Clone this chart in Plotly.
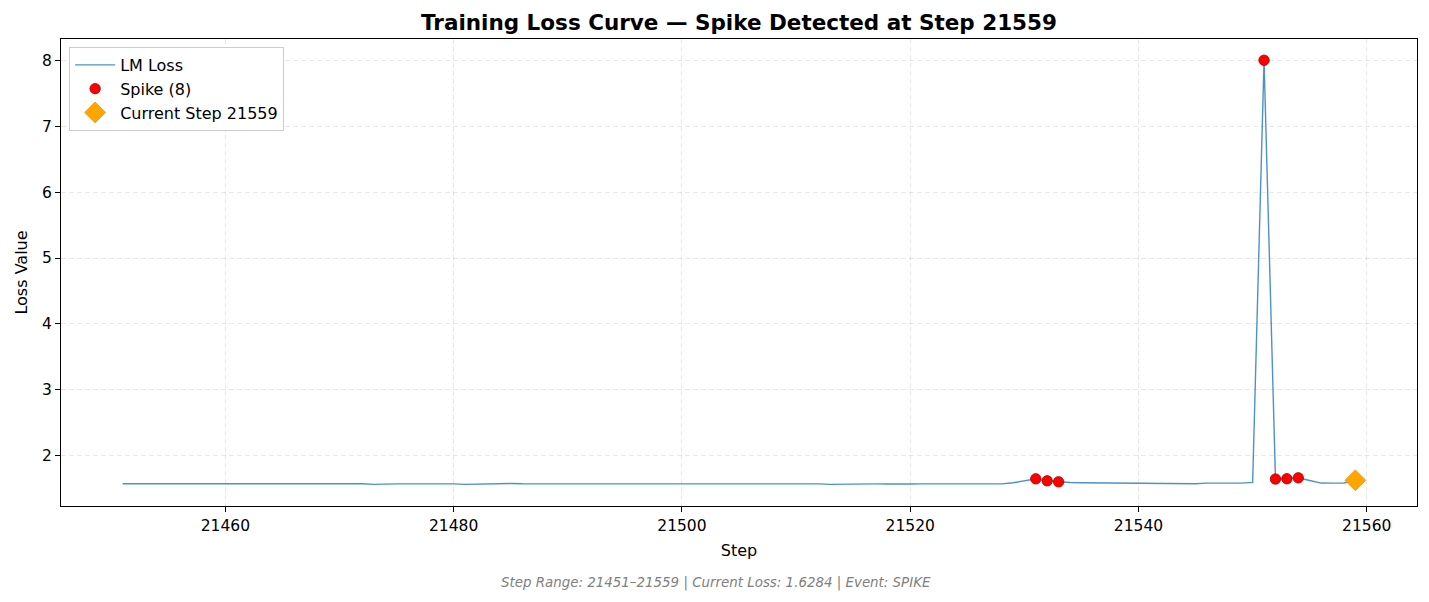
import plotly.graph_objects as go

# loss values for steps 21451..21559
steps = list(range(21451, 21560))
loss = [
    1.575, 1.575, 1.574, 1.574, 1.572, 1.572, 1.575, 1.578, 1.576, 1.571,  # 21451-21460
    1.574, 1.573, 1.571, 1.569, 1.572, 1.572, 1.572, 1.573, 1.574, 1.573,  # 21461-21470
    1.572, 1.576, 1.566, 1.574, 1.574, 1.573, 1.575, 1.575, 1.574, 1.573,  # 21471-21480
    1.566, 1.570, 1.575, 1.578, 1.580, 1.576, 1.576, 1.577, 1.570, 1.575,  # 21481-21490
    1.575, 1.573, 1.572, 1.573, 1.573, 1.573, 1.576, 1.575, 1.575, 1.577,  # 21491-21500
    1.576, 1.573, 1.574, 1.577, 1.575, 1.572, 1.575, 1.574, 1.575, 1.578,  # 21501-21510
    1.575, 1.574, 1.566, 1.570, 1.574, 1.573, 1.573, 1.571, 1.566, 1.572,  # 21511-21520
    1.574, 1.574, 1.573, 1.574, 1.576, 1.576, 1.574, 1.574, 1.590, 1.620,  # 21521-21530
    1.650, 1.620, 1.605, 1.595, 1.590, 1.588, 1.590, 1.585, 1.586, 1.587,  # 21531-21540
    1.588, 1.583, 1.582, 1.582, 1.576, 1.585, 1.582, 1.580, 1.585, 1.596,  # 21541-21550
    8.000, 1.647, 1.652, 1.665, 1.625, 1.586, 1.585, 1.588, 1.628,          # 21551-21559
]

spike_steps = [21531, 21532, 21533, 21551, 21552, 21553, 21554]
spike_loss = [loss[s - steps[0]] for s in spike_steps]

current_step = 21559
current_loss = loss[current_step - steps[0]]

x_ticks = [21460, 21480, 21500, 21520, 21540, 21560]
x_tick_labels = [str(t) for t in x_ticks]
y_ticks = [2, 3, 4, 5, 6, 7, 8]

fig = go.Figure()

fig.add_trace(go.Scatter(
    x=steps, y=loss, mode='lines', name='LM Loss',
    line=dict(color='rgba(31,119,180,0.8)', width=1.4)
))

fig.add_trace(go.Scatter(
    x=spike_steps, y=spike_loss, mode='markers', name='Spike (8)',
    marker=dict(color='red', size=10.5, line=dict(color='darkred', width=0.7))
))

fig.add_trace(go.Scatter(
    x=[current_step], y=[current_loss], mode='markers', name=f'Current Step {current_step}',
    marker=dict(color='orange', symbol='diamond', size=16, line=dict(color='darkorange', width=0.8))
))

axis_style = dict(
    showline=True, linecolor='black', linewidth=1, mirror=True,
    ticks='outside', ticklen=5, tickcolor='black',
    showgrid=True, gridcolor='rgba(176,176,176,0.3)', griddash='5px,3px', gridwidth=1,
    zeroline=False,
    tickfont=dict(size=15.5, color='black'),
)

# the page body adds a few px of offset, so margins are shifted to compensate
ml, mr, mt, mb = 53, 20, 31, 104
fig.update_layout(
    width=1429, height=602,
    margin=dict(l=ml, r=mr, t=mt, b=mb),
    paper_bgcolor='white', plot_bgcolor='white',
    font=dict(family='DejaVu Sans', size=16, color='black'),
    title=dict(
        text='<b>Training Loss Curve — Spike Detected at Step 21559</b>',
        x=(ml + 1429 - mr) / 2 / 1429, xanchor='center', y=1 - 14 / 602, yanchor='middle',
        font=dict(size=21.5, color='black'),
    ),
    xaxis=dict(axis_style, title=dict(text='Step', font=dict(size=16), standoff=11),
               range=[21445.6, 21564.4], tickvals=x_ticks, ticktext=x_tick_labels),
    yaxis=dict(axis_style, title=dict(text='Loss Value', font=dict(size=16), standoff=10),
               range=[1.238, 8.322], tickvals=y_ticks),
    legend=dict(
        x=0.006, y=0.983, xanchor='left', yanchor='top',
        bgcolor='rgba(255,255,255,0.9)', bordercolor='#cccccc', borderwidth=1,
        font=dict(size=16), itemwidth=40, tracegroupgap=2,
    ),
    showlegend=True,
)

plot_w = 1429 - ml - mr
plot_h = 602 - mt - mb
fig.add_annotation(
    text='<i>Step Range: 21451–21559 | Current Loss: 1.6284 | Event: SPIKE</i>',
    xref='paper', yref='paper', x=(707.5 - ml) / plot_w, y=-(575 - (602 - mb)) / plot_h,
    xanchor='center', yanchor='middle', showarrow=False,
    font=dict(size=13.4, color='gray'),
)

fig.write_html("out.html")
